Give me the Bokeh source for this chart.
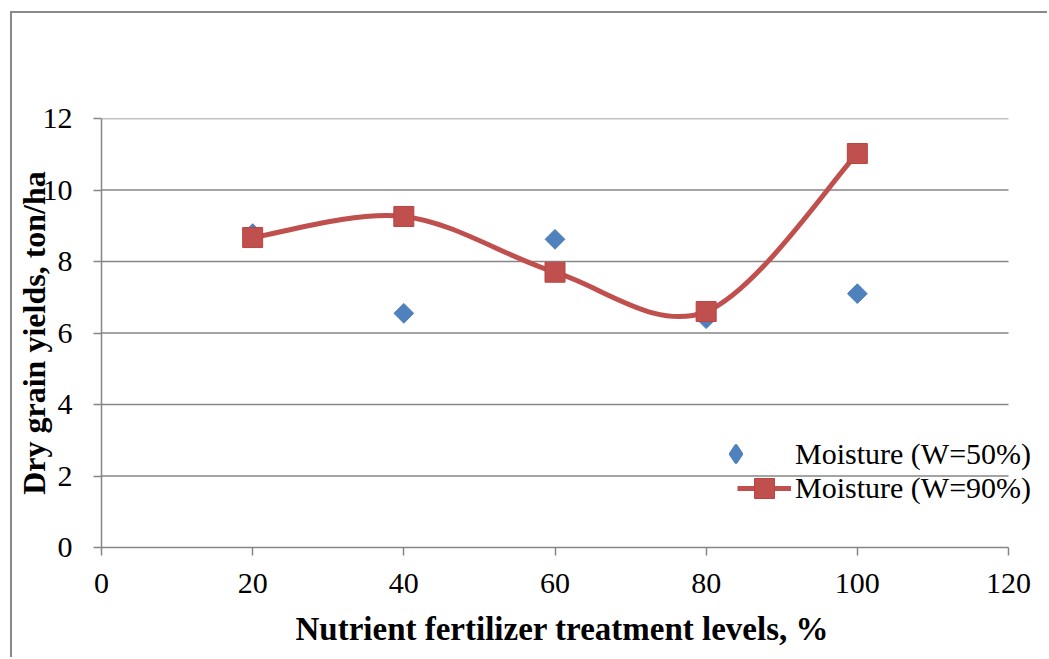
import numpy as np
from bokeh.plotting import figure
from bokeh.models import Legend, LegendItem, ColumnDataSource, FixedTicker, Range1d, Title
from bokeh.embed import file_html
from bokeh.resources import INLINE

# ---------------- data ----------------
levels = [20, 40, 60, 80, 100]
moisture_50 = [8.78, 6.55, 8.62, 6.40, 7.10]
moisture_90 = [8.67, 9.26, 7.70, 6.60, 11.02]
x_ticks = [0, 20, 40, 60, 80, 100, 120]
y_ticks = [0, 2, 4, 6, 8, 10, 12]
series_labels = ["Moisture (W=50%)", "Moisture (W=90%)"]
x_title = "Nutrient fertilizer treatment levels, %"
y_title = "Dry grain yields, ton/ha"

# smoothed line (Bezier segments through the data points, Excel-like smoothing)
xs = np.array(levels, float)
ys = np.array(moisture_90, float)
xp = np.concatenate([[xs[0]], xs, [xs[-1]]])
yp = np.concatenate([[ys[0]], ys, [ys[-1]]])
n = len(xs)
curve = ColumnDataSource(dict(
    x0=xs[:-1], y0=ys[:-1], x1=xs[1:], y1=ys[1:],
    cx0=xs[:-1] + (xp[2:n + 1] - xp[0:n - 1]) / 6.0,
    cy0=ys[:-1] + (yp[2:n + 1] - yp[0:n - 1]) / 6.0,
    cx1=xs[1:] - (xp[3:n + 2] - xp[1:n]) / 6.0,
    cy1=ys[1:] - (yp[3:n + 2] - yp[1:n]) / 6.0,
))

BLUE = "#4F81BD"
RED = "#C0504D"
GRID = "#868686"
SERIF = "Liberation Serif"

# layout: axis area 0..120 spans 907 px; frame extends a little further right
# so that the legend text (which runs past the plot area) is not clipped
x_min, x_max = x_ticks[0], x_ticks[-1]
frame_w, axis_w = 944, 907
x_end = x_min + (x_max - x_min) * frame_w / axis_w

p = figure(width=1037, height=646,
           x_range=Range1d(x_min, x_end), y_range=Range1d(y_ticks[0], y_ticks[-1]),
           output_backend="svg", toolbar_location=None,
           min_border_left=89, min_border_right=4,
           min_border_top=105, min_border_bottom=112,
           margin=(11, 0, 0, 10),
           styles={"border-left": "2px solid #898989", "border-top": "2px solid #898989"},
           background_fill_color="white", border_fill_color="white")
p.outline_line_color = None
p.xgrid.visible = False
p.ygrid.visible = False

# horizontal gridlines limited to the axis extent
gy = y_ticks[1:]
p.segment(x0=[x_min] * len(gy), x1=[x_max] * len(gy), y0=gy, y1=gy,
          line_color=GRID, line_width=1.5)

for ax in (p.xaxis[0], p.yaxis[0]):
    ax.axis_line_color = GRID
    ax.axis_line_width = 1.5
    ax.major_tick_line_color = GRID
    ax.major_tick_line_width = 1.5
    ax.major_tick_out = 8
    ax.major_tick_in = 0
    ax.minor_tick_out = 0
    ax.minor_tick_in = 0
    ax.major_label_text_font = SERIF
    ax.major_label_text_font_size = "30px"
    ax.major_label_text_color = "black"
    ax.axis_label_text_font = SERIF
    ax.axis_label_text_font_size = "32px"
    ax.axis_label_text_font_style = "bold"
    ax.axis_label_text_color = "black"

p.xaxis.bounds = (x_min, x_max)
p.xaxis.ticker = FixedTicker(ticks=x_ticks)
p.yaxis.ticker = FixedTicker(ticks=y_ticks)
p.yaxis.axis_label = y_title
p.xaxis.major_label_standoff = 18
p.yaxis.major_label_standoff = 21
p.yaxis.axis_label_standoff = -12

# x-axis title centred under the 0..120 axis (not the wider frame)
p.add_layout(Title(text=x_title, align="left", offset=194, standoff=26,
                   text_font=SERIF, text_font_size="33px", text_font_style="bold",
                   text_color="black"), "below")

# series
r90_line = p.bezier(x0="x0", y0="y0", x1="x1", y1="y1", cx0="cx0", cy0="cy0",
                    cx1="cx1", cy1="cy1", source=curve, line_color=RED, line_width=5)
r50 = p.scatter(levels, moisture_50, marker="square", angle=np.pi / 4, size=14,
                fill_color=BLUE, line_color=BLUE)
r90 = p.scatter(levels, moisture_90, marker="square", size=20,
                fill_color=RED, line_color="#B94441", line_width=1)

# legend-only renderers (hidden in the plot; their styles are used by the legend)
proxy_50 = p.scatter(levels, moisture_50, marker="diamond", fill_color=BLUE,
                     line_color=BLUE, line_width=2.5, visible=False)
proxy_90_line = p.line(levels, moisture_90, line_color=RED, line_width=5, visible=False)
proxy_90_mark = p.scatter(levels, moisture_90, marker="square", fill_color=RED,
                          line_color="#B94441", line_width=1, visible=False)

common = dict(orientation="vertical", padding=0, margin=0, spacing=0,
              border_line_color=None, background_fill_alpha=0,
              label_text_font=SERIF, label_text_font_size="30px",
              label_text_color="black", label_height=35, click_policy="none")
leg1 = Legend(items=[LegendItem(label=series_labels[0], renderers=[proxy_50])],
              location=(612, 71), glyph_width=45, glyph_height=45,
              label_standoff=37, **common)
leg2 = Legend(items=[LegendItem(label=series_labels[1],
                                renderers=[proxy_90_line, proxy_90_mark])],
              location=(636, 34), glyph_width=54, glyph_height=50,
              label_standoff=4, **common)
p.add_layout(leg1)
p.add_layout(leg2)

open("out.html", "w").write(file_html(p, INLINE))
